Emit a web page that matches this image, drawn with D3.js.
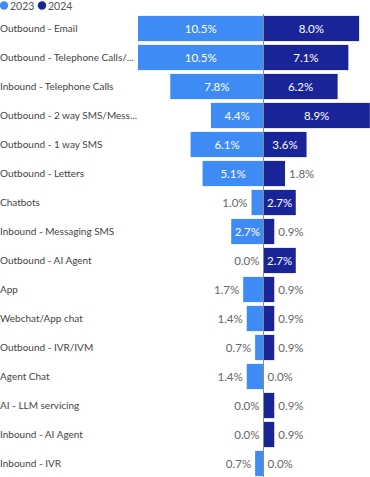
<!DOCTYPE html>
<html>
<head>
<meta charset="utf-8">
<script src="https://cdn.jsdelivr.net/npm/d3@7"></script>
<style>
  body { margin: 0; background: #fff; }
  svg { display: block; font-family: "Lato", "Noto Sans", sans-serif; }
</style>
</head>
<body>
<div id="chart"></div>
<script>

var categories = [
  "Outbound - Email",
  "Outbound - Telephone Calls/...",
  "Inbound - Telephone Calls",
  "Outbound - 2 way SMS/Mess...",
  "Outbound - 1 way SMS",
  "Outbound - Letters",
  "Chatbots",
  "Inbound - Messaging SMS",
  "Outbound - AI Agent",
  "App",
  "Webchat/App chat",
  "Outbound - IVR/IVM",
  "Agent Chat",
  "AI - LLM servicing",
  "Inbound - AI Agent",
  "Inbound - IVR"
];
var values2023 = [10.5, 10.5, 7.8, 4.4, 6.1, 5.1, 1.0, 2.7, 0.0, 1.7, 1.4, 0.7, 1.4, 0.0, 0.0, 0.7];
var values2024 = [8.0, 7.1, 6.2, 8.9, 3.6, 1.8, 2.7, 0.9, 2.7, 0.9, 0.9, 0.9, 0.0, 0.9, 0.9, 0.0];
var seriesNames = ["2023", "2024"];
var seriesColors = ["#3e8bf5", "#1a2499"];

var width = 370, height = 477;
var centerX = 263.5;

var svg = d3.select("#chart").append("svg")
  .attr("width", width)
  .attr("height", height);

var x = d3.scaleLinear()
  .domain([0, 10.5])
  .range([0, 125.5]);

var y = d3.scaleBand()
  .domain(categories)
  .range([14, 14 + categories.length * 29])
  .paddingInner(0.13)
  .paddingOuter(0.065);

var rows = categories.map(function(c, i) {
  return { cat: c, a: values2023[i], b: values2024[i] };
});

// legend
var legend = svg.append("g").attr("class", "legend");
var lx = [4, 42];
seriesNames.forEach(function(name, i) {
  legend.append("circle")
    .attr("cx", lx[i])
    .attr("cy", 5.5)
    .attr("r", 4.2)
    .attr("fill", seriesColors[i]);
  legend.append("text")
    .attr("x", lx[i] + 6)
    .attr("y", 10)
    .attr("font-size", 10.5)
    .attr("fill", "#555")
    .text(name);
});

// category labels
svg.append("g").selectAll("text")
  .data(rows)
  .join("text")
    .attr("x", 0)
    .attr("y", function(d) { return y(d.cat) + y.bandwidth() / 2; })
    .attr("dy", "0.35em")
    .attr("font-size", 10)
    .attr("fill", "#444")
    .text(function(d) { return d.cat; });

// bars
var bars = svg.append("g");
bars.selectAll("rect.l")
  .data(rows)
  .join("rect")
    .attr("class", "l")
    .attr("x", function(d) { return centerX - x(d.a); })
    .attr("y", function(d) { return y(d.cat); })
    .attr("width", function(d) { return x(d.a); })
    .attr("height", y.bandwidth())
    .attr("fill", seriesColors[0]);

bars.selectAll("rect.r")
  .data(rows)
  .join("rect")
    .attr("class", "r")
    .attr("x", centerX)
    .attr("y", function(d) { return y(d.cat); })
    .attr("width", function(d) { return x(d.b); })
    .attr("height", y.bandwidth())
    .attr("fill", seriesColors[1]);

// center line
svg.append("line")
  .attr("x1", centerX).attr("x2", centerX)
  .attr("y1", 14).attr("y2", height)
  .attr("stroke", "#8a8a8a")
  .attr("stroke-width", 1);

// data labels
var fmt = function(v) { return v.toFixed(1) + "%"; };
var labels = svg.append("g").attr("font-size", 11.5);

function placeLabel(d, side) {
  var v = side == "l" ? d.a : d.b;
  var w = x(v);
  var t = labels.append("text")
    .attr("y", y(d.cat) + y.bandwidth() / 2)
    .attr("dy", "0.35em")
    .text(fmt(v));
  var tw = t.node().getComputedTextLength();
  if (w >= tw + 6) {
    t.attr("fill", "#fff")
      .attr("text-anchor", "middle")
      .attr("x", side == "l" ? centerX - w / 2 : centerX + w / 2);
  } else if (side == "l") {
    t.attr("fill", "#666")
      .attr("text-anchor", "end")
      .attr("x", centerX - w - 4);
  } else {
    t.attr("fill", "#666")
      .attr("text-anchor", "start")
      .attr("x", centerX + w + 4);
  }
}

rows.forEach(function(d) {
  placeLabel(d, "l");
  placeLabel(d, "r");
});

</script>
</body>
</html>
